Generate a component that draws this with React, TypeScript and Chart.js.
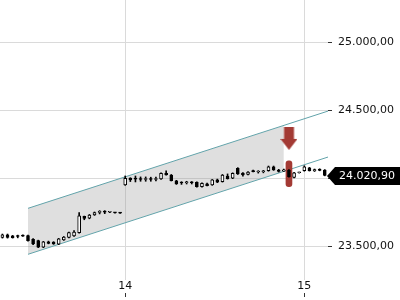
import React, { useEffect, useRef } from "react";
import { Chart, registerables } from "chart.js";

Chart.register(...registerables);

// ---- data -------------------------------------------------------------
// bar index of the first candle (index 0 = first bar of the 14th, 35 bars per day)
const firstIndex = -24;
const opens = [
  23566, 23585, 23576, 23573, 23576, 23578, 23551, 23541, 23493, 23532, 23530, 23515,
  23546, 23566, 23576, 23600, 23720, 23706, 23730, 23749, 23752, 23750, 23747, 23745,
  23951, 24002, 23995, 23992, 23991, 23992, 23991, 23995, 24037, 24024, 23982, 23966,
  23967, 23968, 23971, 23938, 23960, 23951, 23988, 23975, 24017, 24000, 24074, 24039,
  24028, 24050, 24046, 24048, 24056, 24085, 24061, 24053, 24061, 24007, 24041,
  24056, 24076, 24054, 24066, 24061,
];
const highs = [
  23590, 23590, 23580, 23582, 23584, 23583, 23556, 23545, 23536, 23538, 23534, 23558,
  23572, 23604, 23615, 23747, 23722, 23734, 23752, 23762, 23762, 23753, 23749, 23746,
  24017, 24004, 24017, 24010, 24010, 24008, 24008, 24040, 24054, 24028, 23985, 23975,
  23978, 23976, 23974, 23966, 23964, 23991, 23994, 24028, 24032, 24040, 24078, 24042,
  24050, 24060, 24056, 24058, 24090, 24090, 24066, 24068, 24064, 24044, 24045,
  24092, 24080, 24068, 24070, 24064,
];
const lows = [
  23560, 23560, 23560, 23562, 23572, 23538, 23512, 23490, 23490, 23518, 23514, 23512,
  23543, 23562, 23572, 23596, 23695, 23702, 23727, 23738, 23740, 23748, 23744, 23742,
  23948, 23976, 23973, 23978, 23978, 23978, 23980, 23992, 24022, 23980, 23955, 23955,
  23958, 23958, 23935, 23935, 23943, 23948, 23968, 23972, 23994, 23997, 24028, 24015,
  24025, 24046, 24038, 24040, 24052, 24058, 24046, 24050, 24008, 24003, 24038,
  24052, 24053, 24050, 24055, 24018,
];
const closes = [
  23585, 23566, 23564, 23572, 23575, 23541, 23517, 23493, 23532, 23521, 23517, 23554,
  23568, 23600, 23605, 23723, 23705, 23730, 23747, 23750, 23751, 23751, 23746, 23744,
  24000, 23988, 23994, 23991, 23992, 23991, 23992, 24037, 24024, 23982, 23958, 23965,
  23968, 23967, 23938, 23963, 23946, 23988, 23971, 24024, 23997, 24037, 24032, 24024,
  24046, 24049, 24047, 24049, 24085, 24061, 24050, 24063, 24012, 24041, 24042,
  24085, 24056, 24064, 24058, 24020.9,
];

const dayTickIndex = [0, 35];
const dayTickLabels = ["14", "15"];
const yTickValues = [23500, 24000, 24500, 25000];

// trend channel
const channelX = [-19, 42];
const channelUpper = [23779, 24523];
const channelLower = [23441, 24185];
const shadeX = [-19, 31];
const shadeUpper = [23779, 24389];
const shadeLower = [23441, 24051];

// sell signal
const signalIndex = 32;
const signalArrowLevel = 24293;
const signalBarRange = [23938, 24129];

const lastPrice = 24020.9;

// ---- helpers ----------------------------------------------------------
const RED = "#a33a34";
const TEAL = "rgb(98,163,170)";
const GRID = "#dadada";

function fmt(v: number): string {
  const [i, d] = Number(v).toFixed(2).split(".");
  return i.replace(/\B(?=(\d{3})+(?!\d))/g, ".") + "," + d;
}

export default function App() {
  const ref = useRef<HTMLCanvasElement | null>(null);

  useEffect(() => {
    if (!ref.current) return;
    Chart.defaults.font.family = "'DejaVu Sans', sans-serif";
    Chart.defaults.font.size = 11;

    const idx = opens.map((_, k) => firstIndex + k);
    const bodies = idx.map((x, k) => ({ x, y: [opens[k], closes[k]] }));
    const bodyColors = idx.map((_, k) => (closes[k] >= opens[k] ? "#ffffff" : "#000000"));
    const wicks = idx.map((x, k) => ({ x, y: [lows[k], highs[k]] }));

    const arrow = document.createElement("canvas");
    arrow.width = 17;
    arrow.height = 23;
    const a = arrow.getContext("2d")!;
    a.fillStyle = RED;
    a.beginPath();
    a.moveTo(3.5, 0);
    a.lineTo(13.5, 0);
    a.lineTo(13.5, 12);
    a.lineTo(17, 12);
    a.lineTo(8.5, 23);
    a.lineTo(0, 12);
    a.lineTo(3.5, 12);
    a.closePath();
    a.fill();

    const priceTag = {
      id: "priceTag",
      afterDraw(chart: any) {
        const { ctx } = chart;
        const y = chart.scales.y;
        const py = Math.round(y.getPixelForValue(lastPrice)) + 1;
        const left = y.left;
        ctx.save();
        ctx.fillStyle = "#000";
        ctx.beginPath();
        ctx.moveTo(left - 1, py);
        ctx.lineTo(left + 7, py - 9);
        ctx.lineTo(chart.width, py - 9);
        ctx.lineTo(chart.width, py + 9);
        ctx.lineTo(left + 7, py + 9);
        ctx.closePath();
        ctx.fill();
        ctx.fillStyle = "#fff";
        ctx.font = "11px 'DejaVu Sans', sans-serif";
        ctx.textBaseline = "middle";
        ctx.textAlign = "left";
        ctx.fillText(fmt(lastPrice), left + 11, py + 0.5);
        ctx.restore();
      },
    };

    const chart = new Chart(ref.current, {
      type: "bar",
      data: {
        datasets: [
          {
            type: "bar",
            data: bodies as any,
            backgroundColor: bodyColors,
            borderColor: "#000",
            borderWidth: 1,
            barThickness: 3,
            minBarLength: 1,
            grouped: false,
            borderSkipped: false,
          },
          {
            type: "bar",
            data: wicks as any,
            backgroundColor: "#000",
            borderWidth: 0,
            barThickness: 1,
            grouped: false,
          },
          {
            type: "bar",
            data: [{ x: signalIndex, y: signalBarRange }] as any,
            backgroundColor: RED,
            borderWidth: 0,
            barThickness: 6,
            borderRadius: 3,
            borderSkipped: false,
            grouped: false,
          },
          {
            type: "line",
            data: [{ x: signalIndex, y: signalArrowLevel }],
            showLine: false,
            pointStyle: arrow as any,
            pointRadius: 8,
            borderColor: "rgba(0,0,0,0)",
          },
          {
            type: "line",
            data: channelX.map((x, k) => ({ x, y: channelUpper[k] })),
            borderColor: TEAL,
            borderWidth: 1,
            pointRadius: 0,
            fill: false,
          },
          {
            type: "line",
            data: channelX.map((x, k) => ({ x, y: channelLower[k] })),
            borderColor: TEAL,
            borderWidth: 1,
            pointRadius: 0,
            fill: false,
          },
          {
            type: "line",
            data: shadeX.map((x, k) => ({ x, y: shadeUpper[k] })),
            borderColor: "rgba(0,0,0,0)",
            pointRadius: 0,
            fill: "+1",
            backgroundColor: "rgba(150,150,150,0.3)",
          },
          {
            type: "line",
            data: shadeX.map((x, k) => ({ x, y: shadeLower[k] })),
            borderColor: "rgba(0,0,0,0)",
            pointRadius: 0,
            fill: false,
          },
        ] as any,
      },
      options: {
        responsive: false,
        animation: false,
        devicePixelRatio: 1,
        events: [],
        layout: { padding: 0, autoPadding: false },
        plugins: {
          legend: { display: false },
          tooltip: { enabled: false },
        },
        scales: {
          x: {
            type: "linear",
            min: -24.47,
            max: 39.63,
            offset: false,
            grid: {
              offset: false,
              color: GRID,
              tickColor: "#333",
              tickLength: 17,
              tickBorderDash: [0, 13, 4, 0],
              drawTicks: true,
            },
            border: { display: false },
            afterBuildTicks: (s: any) => {
              s.ticks = dayTickIndex.map((v) => ({ value: v }));
            },
            afterFit: (s: any) => {
              s.height = 20;
              s.paddingLeft = 0;
              s.paddingRight = 0;
            },
            ticks: {
              autoSkip: false,
              maxRotation: 0,
              minRotation: 0,
              padding: -17,
              color: "#111",
              callback: (v: any) => {
                const k = dayTickIndex.indexOf(Number(v));
                return k >= 0 ? dayTickLabels[k] : "";
              },
            },
          },
          y: {
            type: "linear",
            position: "right",
            min: 23252,
            max: 25311,
            beginAtZero: false,
            grid: { color: GRID, tickColor: "#333", tickLength: 4 },
            border: { display: false },
            afterBuildTicks: (s: any) => {
              s.ticks = yTickValues.map((v) => ({ value: v }));
            },
            afterFit: (s: any) => {
              s.width = 72;
              s.paddingTop = 0;
              s.paddingBottom = 0;
            },
            ticks: {
              padding: 6,
              color: "#111",
              callback: (v: any) => fmt(Number(v)),
            },
          },
        },
      } as any,
      plugins: [priceTag],
    });

    return () => chart.destroy();
  }, []);

  return (
    <div style={{ position: "fixed", left: 0, top: 0, width: 400, height: 300, background: "#fff" }}>
      <canvas ref={ref} width={400} height={300} style={{ display: "block", width: 400, height: 300 }} />
    </div>
  );
}
